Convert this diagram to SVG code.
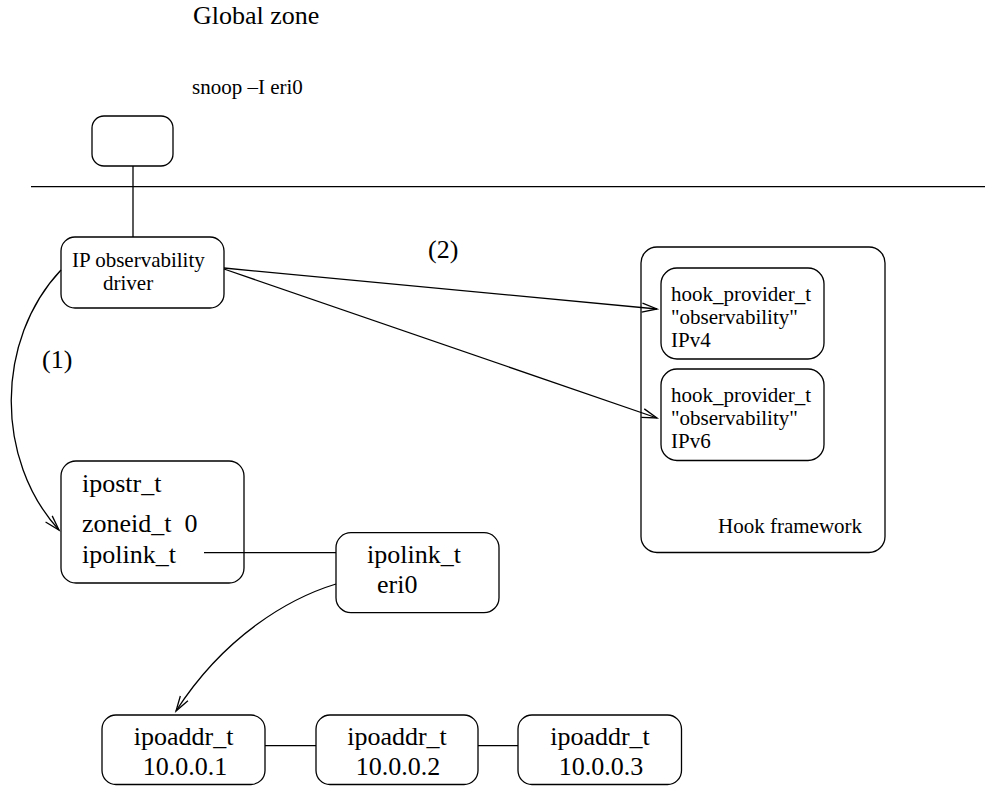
<svg xmlns="http://www.w3.org/2000/svg" width="985" height="786" viewBox="0 0 985 786">
<style>
.b{fill:#fff;stroke:#000;stroke-width:1.3}
.c{fill:none;stroke:#000;stroke-width:1.3}
text{font-family:"Liberation Serif","Times New Roman",Times,serif;fill:#000}
.L{font-size:26px}
.S{font-size:21px}
.m{text-anchor:middle}
</style>
<defs>
<marker id="ah" markerUnits="userSpaceOnUse" markerWidth="18" markerHeight="12" refX="15" refY="4.5" orient="auto" overflow="visible">
<path d="M0,0 L15,4.5 L0,9" fill="none" stroke="#000" stroke-width="1.3"/>
</marker>
</defs>
<rect width="985" height="786" fill="#fff"/>
<g id="title">
<text class="L" x="193" y="24">Global zone</text>
<text class="S" x="192" y="94">snoop –I eri0</text>
</g>
<g id="snoop">
<rect class="b" x="92" y="116" width="81" height="50" rx="12"/>
</g>
<g id="ipdriver">
<rect class="b" x="61" y="237" width="163" height="71" rx="14"/>
<text class="S" x="72" y="267">IP observability</text>
<text class="S" x="103" y="290">driver</text>
</g>
<g id="hookframework">
<rect class="b" x="641" y="247" width="244" height="305.5" rx="16"/>
<text class="S" x="718" y="533">Hook framework</text>
</g>
<g id="hookv4">
<rect class="b" x="661" y="268" width="163" height="91" rx="16"/>
<text class="S" x="671" y="300.5">hook_provider_t</text>
<text class="S" x="671" y="323.5">"observability"</text>
<text class="S" x="671" y="346.5">IPv4</text>
</g>
<g id="hookv6">
<rect class="b" x="661" y="369" width="163" height="91.5" rx="16"/>
<text class="S" x="671" y="401.5">hook_provider_t</text>
<text class="S" x="671" y="424.5">"observability"</text>
<text class="S" x="671" y="447.5">IPv6</text>
</g>
<g id="ipostr">
<rect class="b" x="61" y="461" width="183" height="122" rx="15"/>
<text class="L" x="82" y="491.7">ipostr_t</text>
<text class="L" x="82" y="531.7" xml:space="preserve">zoneid_t  0</text>
<text class="L" x="82" y="562.7">ipolink_t</text>
</g>
<g id="ipolink">
<rect class="b" x="336" y="532.7" width="163" height="80" rx="15"/>
<text class="L" x="367" y="562.7">ipolink_t</text>
<text class="L" x="377" y="592.7">eri0</text>
</g>
<g id="ipoaddr1">
<rect class="b" x="102" y="715" width="163" height="69.5" rx="14"/>
<text class="L m" x="183.7" y="745">ipoaddr_t</text>
<text class="L m" x="185" y="775">10.0.0.1</text>
</g>
<g id="ipoaddr2">
<rect class="b" x="316" y="715" width="162" height="69.5" rx="14"/>
<text class="L m" x="397" y="745">ipoaddr_t</text>
<text class="L m" x="398" y="775">10.0.0.2</text>
</g>
<g id="ipoaddr3">
<rect class="b" x="518" y="715" width="163.5" height="69.5" rx="14"/>
<text class="L m" x="600" y="745">ipoaddr_t</text>
<text class="L m" x="601" y="775">10.0.0.3</text>
</g>
<g id="connectors">
<line class="c" x1="31" y1="186.7" x2="985" y2="186.7"/>
<line class="c" x1="133" y1="166" x2="133" y2="237"/>
<line class="c" x1="224" y1="268" x2="657" y2="309" marker-end="url(#ah)"/>
<line class="c" x1="224" y1="269" x2="657" y2="418" marker-end="url(#ah)"/>
<path class="c" d="M61,270 C -5,340 -5,460 59,530" marker-end="url(#ah)"/>
<line class="c" x1="204" y1="552.7" x2="336" y2="552.7"/>
<path class="c" d="M336,584 C 290,598 225,635 176,711" marker-end="url(#ah)"/>
<line class="c" x1="265" y1="745.7" x2="316" y2="745.7"/>
<line class="c" x1="478" y1="745.7" x2="518" y2="745.7"/>
<text class="L" x="428" y="258">(2)</text>
<text class="L" x="42" y="368">(1)</text>
</g>
</svg>
